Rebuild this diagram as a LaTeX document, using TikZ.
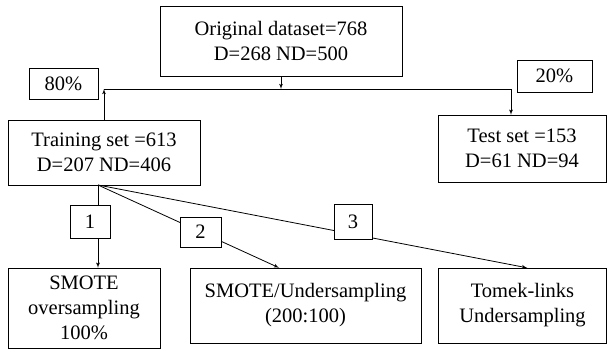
\documentclass[tikz,border=0pt]{standalone}
\usepackage{fontspec}
\setmainfont{Liberation Serif}
\usetikzlibrary{arrows}

\begin{document}
\begin{tikzpicture}
	[x=1pt,y=-1pt,every node/.style={rectangle,draw,fill=white,align=center,inner sep=1pt,font=\fontsize{20.5}{25}\selectfont}]
	\tikzset{edge/.style = {->,> = latex',line width=0.8pt}}
	\useasboundingbox (0,0) rectangle (607,349);
	\node[minimum width=242pt,minimum height=70pt] (orig) at (281,41) {Original dataset=768\\D=268 ND=500};
	\node[minimum width=69pt,minimum height=31pt] (p80) at (63.5,83.5) {80\%};
	\node[minimum width=75pt,minimum height=32pt] (p20) at (554.5,76) {20\%};
	\node[minimum width=192pt,minimum height=65pt] (train) at (104,152.5) {Training set =613\\D=207 ND=406};
	\node[minimum width=168pt,minimum height=67pt] (test) at (522,148.5) {Test set =153\\D=61 ND=94};
	\node[minimum width=152pt,minimum height=80pt] (smote) at (84,308) {SMOTE\\oversampling\\100\%};
	\node[minimum width=231pt,minimum height=75pt] (smu) at (305.5,305.5) {SMOTE/Undersampling\\(200:100)};
	\node[minimum width=168pt,minimum height=75pt] (tomek) at (522.5,305.5) {Tomek-links\\Undersampling};
	\coordinate (bus) at (orig.south |- 0,89);
	\coordinate (fork) at (98,185);
	
	\draw[edge] (orig.south) -- (bus);
	\draw[line width=0.8pt] (train.north |- bus) -- (bus);
	\draw[edge] (train.north) -- (train.north |- bus);
	\draw[edge] (bus) -| ([xshift=-11pt]test.north);
	\foreach \to in {fork |- smote.north,smu.125,tomek.83}
	\draw[edge] (fork) -- (\to);
	
	\node[minimum width=40pt,minimum height=33pt] (n1) at (90,221.5) {1};
	\node[minimum width=41pt,minimum height=30pt] (n2) at (200.5,232) {2};
	\node[minimum width=38pt,minimum height=35pt] (n3) at (353,221.5) {3};
\end{tikzpicture}
\end{document}
